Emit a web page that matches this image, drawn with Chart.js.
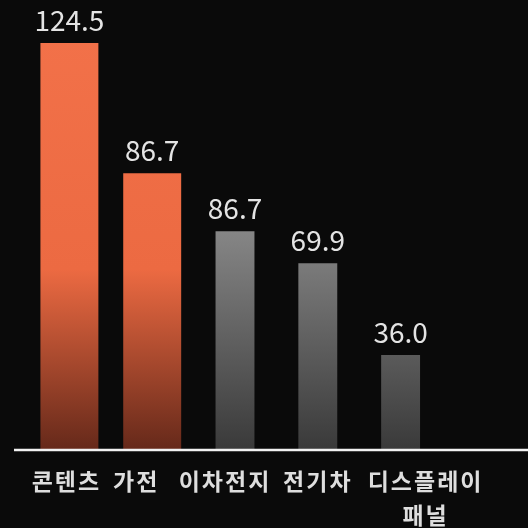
<!DOCTYPE html>
<html>
<head>
<meta charset="utf-8">
<script src="https://cdn.jsdelivr.net/npm/chart.js@4.4.1/dist/chart.umd.min.js"></script>
<style>
  html, body { margin: 0; padding: 0; background: #0a0a0a; }
  #wrap { width: 528px; height: 528px; }
</style>
</head>
<body>
<div id="wrap"><canvas id="barChart"></canvas></div>
<script>
// categories and values
const categories = ['콘텐츠', '가전', '이차전지', '전기차', ['디스플레이', '패널']];
const valueLabels = ['124.5', '86.7', '86.7', '69.9', '36.0'];
// bar heights as drawn in the picture
const barHeights = [124.5, 84.6, 66.8, 57.0, 28.8];
const highlighted = [true, true, false, false, false];

const orangeData = barHeights.map((v, i) => highlighted[i] ? v : null);
const grayData = barHeights.map((v, i) => highlighted[i] ? null : v);

// horizontal nudge of category labels (px), the original ones are not centred on bars
const labelShift = [-3, -16, -10, 0, 25];

function vGradient(ctx, area, stops) {
    const g = ctx.createLinearGradient(0, area.top, 0, area.bottom);
    stops.forEach(s => g.addColorStop(s[0], s[1]));
    return g;
}

const orangeFill = c => {
    const area = c.chart.chartArea;
    if (!area) return '#f06c44';
    return vGradient(c.chart.ctx, area, [[0, '#f3724a'], [0.6, '#ec6a42'], [1, '#66291a']]);
};
const grayFill = c => {
    const area = c.chart.chartArea;
    if (!area) return '#999';
    return vGradient(c.chart.ctx, area, [[0, '#aaaaaa'], [0.5, '#888888'], [1, '#3a3a3a']]);
};

// baseline, value labels above bars, category labels under the axis
const labelPlugin = {
    id: 'valueLabels',
    afterDatasetsDraw(chart) {
        const ctx = chart.ctx;
        const area = chart.chartArea;
        const xs = chart.scales.x;
        ctx.save();
        ctx.strokeStyle = '#f2f2f2';
        ctx.lineWidth = 2.5;
        ctx.beginPath();
        ctx.moveTo(14, area.bottom + 1);
        ctx.lineTo(chart.width, area.bottom + 1);
        ctx.stroke();

        ctx.fillStyle = '#e4e4e4';
        ctx.font = '28px "Noto Sans CJK KR", "Noto Sans", sans-serif';
        ctx.textAlign = 'center';
        ctx.textBaseline = 'bottom';
        chart.data.datasets.forEach((ds, di) => {
            chart.getDatasetMeta(di).data.forEach((bar, i) => {
                if (ds.data[i] == null) return;
                ctx.fillText(valueLabels[i], bar.x, bar.y - 9);
            });
        });

        ctx.fillStyle = '#dedede';
        ctx.font = 'bold 23px "Noto Sans CJK KR", sans-serif';
        ctx.letterSpacing = '2px';
        ctx.textBaseline = 'middle';
        categories.forEach((lab, i) => {
            const x = xs.getPixelForValue(i) + labelShift[i];
            const lines = Array.isArray(lab) ? lab : [lab];
            lines.forEach((t, j) => ctx.fillText(t, x, area.bottom + 32 + j * 34));
        });
        ctx.restore();
    }
};

const ctx = document.getElementById('barChart').getContext('2d');
new Chart(ctx, {
    type: 'bar',
    data: {
        labels: categories,
        datasets: [{
            data: orangeData,
            backgroundColor: orangeFill,
            barPercentage: 0.7,
            categoryPercentage: 1,
            grouped: false
        }, {
            data: grayData,
            backgroundColor: grayFill,
            barPercentage: 0.47,
            categoryPercentage: 1,
            grouped: false
        }]
    },
    options: {
        responsive: true,
        maintainAspectRatio: false,
        animation: false,
        layout: {
            padding: { left: 28, right: 86, top: 0, bottom: 79 }
        },
        plugins: {
            legend: { display: false },
            tooltip: { enabled: false }
        },
        scales: {
            y: {
                display: false,
                min: 0,
                max: 137.7
            },
            x: {
                display: false
            }
        }
    },
    plugins: [labelPlugin]
});
</script>
</body>
</html>
